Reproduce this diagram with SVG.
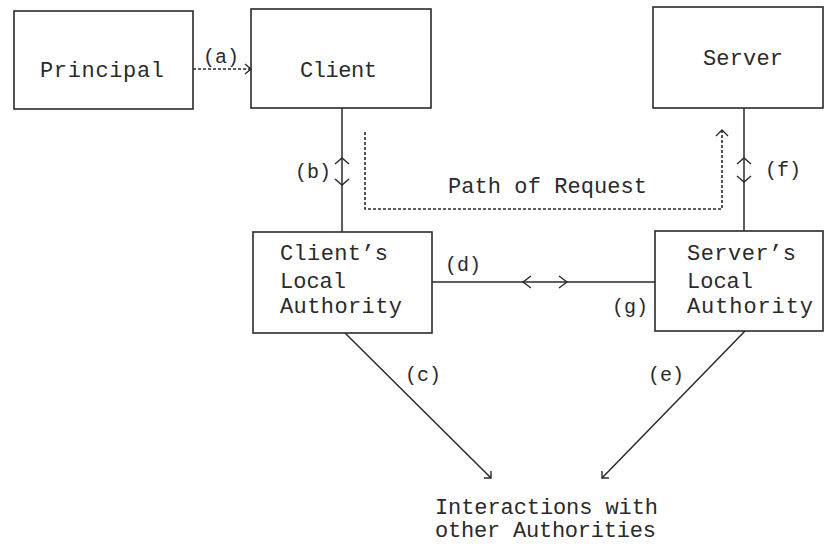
<svg xmlns="http://www.w3.org/2000/svg" width="824" height="544" viewBox="0 0 824 544">
<style>
  .box { fill: #ffffff; stroke: #2a2a2a; stroke-width: 1.6; }
  .t { font-family: "Liberation Mono", "DejaVu Sans Mono", monospace; font-size: 22px; fill: #2a2a2a; }
  .lbl { font-family: "Liberation Mono", "DejaVu Sans Mono", monospace; font-size: 20px; fill: #2a2a2a; }
  .ln { fill: none; stroke: #2a2a2a; stroke-width: 1.5; }
  .dash { fill: none; stroke: #2a2a2a; stroke-width: 1.6; stroke-dasharray: 3 2; }
  .head { fill: none; stroke: #2a2a2a; stroke-width: 1.4; stroke-linejoin: miter; }
</style>
<rect width="824" height="544" fill="#ffffff"/>

<g id="principal">
  <rect class="box" x="14" y="11" width="179" height="98"/>
  <text class="t" x="40" y="77" textLength="124">Principal</text>
</g>
<g id="client">
  <rect class="box" x="251" y="9" width="180" height="99"/>
  <text class="t" x="300" y="77" textLength="77">Client</text>
</g>
<g id="server">
  <rect class="box" x="653" y="7" width="170" height="101"/>
  <text class="t" x="703" y="65" textLength="80">Server</text>
</g>
<g id="clients-local-authority">
  <rect class="box" x="253" y="232" width="179" height="101"/>
  <text class="t" x="280" y="260" textLength="108">Client’s</text>
  <text class="t" x="280" y="288">Local</text>
  <text class="t" x="280" y="313" textLength="122">Authority</text>
</g>
<g id="servers-local-authority">
  <rect class="box" x="655" y="231" width="168" height="100"/>
  <text class="t" x="687" y="260" textLength="109">Server’s</text>
  <text class="t" x="687" y="288">Local</text>
  <text class="t" x="687" y="313" textLength="126">Authority</text>
</g>
<g id="interactions">
  <text class="t" x="435" y="514" textLength="223">Interactions with</text>
  <text class="t" x="435" y="537" textLength="221">other Authorities</text>
</g>

<g id="connectors">
  <!-- (a) Principal -> Client -->
  <line class="dash" x1="193" y1="69" x2="250" y2="69"/>
  <path class="head" d="M245,64 L251,69 L245,74"/>
  <text class="lbl" x="203" y="63">(a)</text>

  <!-- (b) Client <-> Client's Local Authority -->
  <line class="ln" x1="342" y1="108" x2="342" y2="232"/>
  <path class="head" d="M335,164 L342,158 L349,164"/>
  <path class="head" d="M335,179 L342,185 L349,179"/>
  <text class="lbl" x="295" y="178">(b)</text>

  <!-- Path of Request -->
  <path class="dash" d="M365,132 L365,209 L722,209 L722,131"/>
  <path class="head" d="M716,136 L722,130 L728,136"/>
  <text class="t" x="448" y="193" textLength="199">Path of Request</text>

  <!-- (f) Server <-> Server's Local Authority -->
  <line class="ln" x1="744" y1="108" x2="744" y2="231"/>
  <path class="head" d="M737,164 L744,158 L751,164"/>
  <path class="head" d="M737,176 L744,182 L751,176"/>
  <text class="lbl" x="765" y="176">(f)</text>

  <!-- (d)/(g) between local authorities -->
  <line class="ln" x1="432" y1="282" x2="655" y2="282"/>
  <path class="head" d="M531,276 L523,282 L531,288"/>
  <path class="head" d="M559,276 L567,282 L559,288"/>
  <text class="lbl" x="445" y="271">(d)</text>
  <text class="lbl" x="612" y="313">(g)</text>

  <!-- (c) -->
  <line class="ln" x1="345" y1="333" x2="491" y2="478"/>
  <path class="head" d="M484,478 L491,478 L491,471"/>
  <text class="lbl" x="405" y="381">(c)</text>

  <!-- (e) -->
  <line class="ln" x1="745" y1="331" x2="602" y2="478"/>
  <path class="head" d="M609,478 L602,478 L602,471"/>
  <text class="lbl" x="648" y="381">(e)</text>
</g>
</svg>
